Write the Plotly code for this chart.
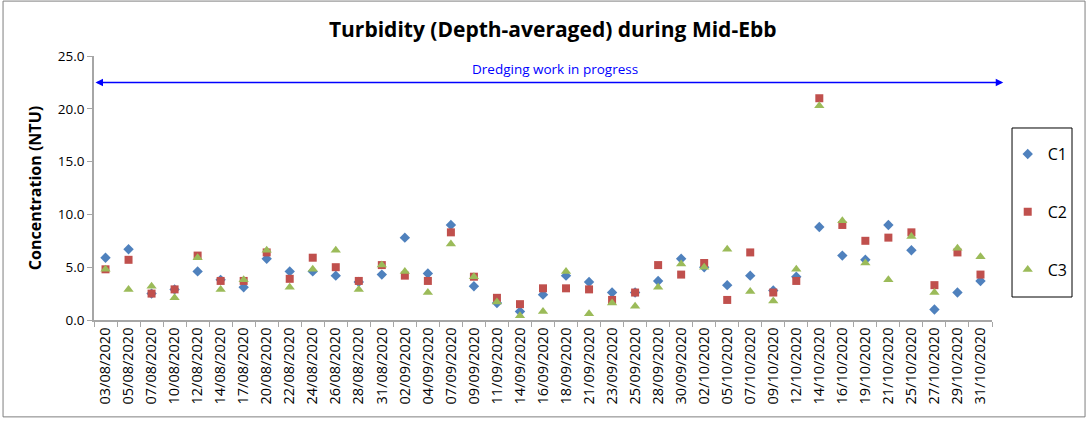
import plotly.graph_objects as go

dates = ["03/08/2020","05/08/2020","07/08/2020","10/08/2020","12/08/2020","14/08/2020","17/08/2020",
         "20/08/2020","22/08/2020","24/08/2020","26/08/2020","28/08/2020","31/08/2020","02/09/2020",
         "04/09/2020","07/09/2020","09/09/2020","11/09/2020","14/09/2020","16/09/2020","18/09/2020",
         "21/09/2020","23/09/2020","25/09/2020","28/09/2020","30/09/2020","02/10/2020","05/10/2020",
         "07/10/2020","09/10/2020","12/10/2020","14/10/2020","16/10/2020","19/10/2020","21/10/2020",
         "25/10/2020","27/10/2020","29/10/2020","31/10/2020"]

c1 = [5.9, 6.7, 2.5, 2.9, 4.6, 3.8, 3.1, 5.8, 4.6, 4.6, 4.2, 3.6, 4.3, 7.8,
      4.4, 9.0, 3.2, 1.6, 0.8, 2.4, 4.2, 3.6, 2.6, 2.6, 3.7, 5.8, 5.0, 3.3,
      4.2, 2.8, 4.1, 8.8, 6.1, 5.7, 9.0, 6.6, 1.0, 2.6, 3.7]
c2 = [4.8, 5.7, 2.5, 2.9, 6.1, 3.7, 3.7, 6.4, 3.9, 5.9, 5.0, 3.7, 5.2, 4.2,
      3.7, 8.3, 4.1, 2.1, 1.5, 3.0, 3.0, 2.9, 1.9, 2.6, 5.2, 4.3, 5.4, 1.9,
      6.4, 2.6, 3.7, 21.0, 9.0, 7.5, 7.8, 8.3, 3.3, 6.4, 4.3]
c3 = [4.8, 2.9, 3.2, 2.1, 5.9, 2.9, 3.8, 6.6, 3.1, 4.8, 6.6, 2.9, 5.2, 4.6,
      2.6, 7.2, 4.1, 1.7, 0.4, 0.8, 4.6, 0.6, 1.6, 1.3, 3.1, 5.3, 5.0, 6.7,
      2.7, 1.8, 4.8, 20.3, 9.4, 5.4, 3.8, 7.9, 2.6, 6.8, 6.0]

series = [("C1", c1, "diamond", "#4F81BD", 8),
          ("C2", c2, "square", "#C0504D", 8),
          ("C3", c3, "triangle-up", "#9BBB59", 9)]

FONT = "Open Sans"
fig = go.Figure()
for name, vals, sym, col, sz in series:
    fig.add_trace(go.Scatter(x=dates, y=vals, mode="markers", name=name, legendgroup=name,
                             marker=dict(symbol=sym, color=col, size=sz, line=dict(width=0))))

axis_grey = "#A6A6A6"
fig.update_layout(
    width=1088, height=423,
    margin=dict(l=94, r=96, t=56, b=103),
    paper_bgcolor="white", plot_bgcolor="white",
    title=dict(text="<b>Turbidity (Depth-averaged) during Mid-Ebb</b>", x=0.508, xanchor="center",
               y=0.93, yanchor="middle", font=dict(family=FONT, size=21, color="black")),
    font=dict(family=FONT, color="black"),
    showlegend=True,
    legend=dict(x=1.0175, y=0.693, xanchor="left", yanchor="top", borderwidth=0,
                font=dict(size=16, family=FONT), tracegroupgap=34, itemwidth=30,
                bgcolor="rgba(0,0,0,0)"),
    xaxis=dict(type="category", categoryorder="array", categoryarray=dates,
               tickangle=-90, tickfont=dict(size=14.5, family=FONT), showgrid=False,
               showline=True, linecolor=axis_grey, linewidth=1.5, ticks="outside",
               tickson="boundaries", ticklen=5, tickcolor=axis_grey, range=[-0.5, len(dates)-0.5],
               automargin=False),
    yaxis=dict(range=[0, 25], dtick=5, tickformat=".1f", showgrid=False, showline=True,
               linecolor=axis_grey, linewidth=1.5, ticks="outside", ticklen=5, tickcolor=axis_grey,
               tickfont=dict(size=13.5, family=FONT), zeroline=False, automargin=False,
               title=dict(text="<b>Concentration (NTU)</b>", font=dict(size=16, family=FONT), standoff=12)),
)

# outer chart border
fig.add_shape(type="rect", xref="paper", yref="paper", x0=-0.1013, x1=1.1036, y0=-0.367, y1=1.208,
              line=dict(color="#7F7F7F", width=1), fillcolor="rgba(0,0,0,0)", layer="below")
# legend box
fig.add_shape(type="rect", xref="paper", yref="paper", x0=1.0223, x1=1.0891, y0=0.0871, y1=0.7273,
              line=dict(color="black", width=1), fillcolor="rgba(0,0,0,0)", layer="below")

# dredging arrow
fig.add_annotation(xref="x domain", yref="y", axref="x domain", ayref="y",
                   x=1.0125, y=22.5, ax=0.0, ay=22.5, text="", showarrow=True,
                   arrowhead=2, startarrowhead=2, arrowside="end+start", arrowsize=1,
                   arrowwidth=1.5, arrowcolor="#0000FF")
fig.add_annotation(xref="x domain", yref="y", x=0.513, y=23.8, text="Dredging work in progress",
                   showarrow=False, font=dict(size=13.5, color="#0000FF", family=FONT))

fig.write_html("out.html", config={"displayModeBar": False},
               post_script="document.body.style.margin='0';document.body.style.overflow='hidden';")
